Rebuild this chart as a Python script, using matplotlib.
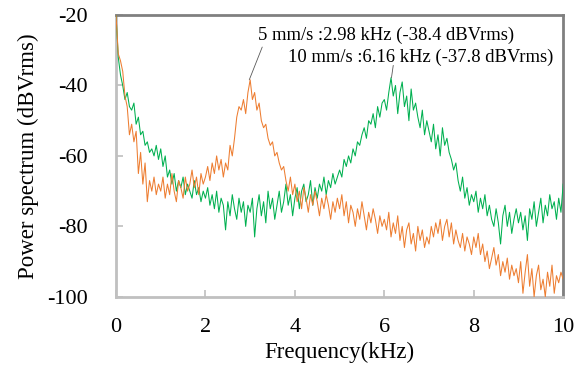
import matplotlib
matplotlib.use('Agg')
import matplotlib.pyplot as plt
import numpy as np

plt.rcParams['font.family'] = ['Liberation Serif', 'DejaVu Serif']
plt.rcParams['axes.unicode_minus'] = False

# frequency grid (kHz), 0.05 kHz step
freq = np.round(np.arange(0, 10.001, 0.05), 2)

# 5 mm/s spectrum (dBVrms)
spec_5 = [
    -20, -31, -33, -36, -43, -46, -54, -51, -56, -53, -65, -59, -68, -62, -73, -67, -70, -66, -71, -68,
    -70, -66, -72, -68, -71, -65, -70, -73, -67, -69, -72, -66, -70, -68, -64, -69, -66, -71, -65, -68,
    -66, -63, -67, -62, -65, -60, -64, -61, -66, -62, -64, -57, -60, -55, -49, -46, -47, -44, -48, -42,
    -38.4, -44, -42, -47, -45, -50, -52, -51, -55, -57, -56, -60, -59, -62, -64, -63, -67, -70, -66, -71,
    -68, -73, -70, -75, -69, -72, -76, -71, -74, -70, -73, -77, -72, -75, -71, -74, -78, -73, -76, -72,
    -75, -71, -77, -73, -79, -74, -76, -80, -75, -78, -73, -77, -81, -76, -79, -75, -78, -82, -77, -80,
    -78, -81, -76, -83, -79, -82, -77, -84, -80, -86, -81, -79, -85, -82, -87, -80, -84, -81, -86, -83,
    -85, -80, -83, -79, -82, -78, -84, -80, -78, -83, -79, -85, -81, -84, -86, -82, -87, -83, -85, -88,
    -83, -86, -82, -88, -85, -90, -87, -92, -89, -86, -91, -88, -94, -90, -93, -89, -95, -91, -94, -92,
    -96, -90, -99, -93, -88, -97, -92, -100, -94, -91, -98, -95, -100, -93, -97, -91, -99, -94, -96, -93,
    -95,
]

# 10 mm/s spectrum (dBVrms)
spec_10 = [
    -20, -32, -37, -40, -44, -42, -46, -47, -45, -51, -49, -54, -53, -57, -56, -59, -58, -60, -57, -61,
    -58, -63, -60, -66, -64, -68, -65, -70, -67, -69, -66, -71, -68, -70, -72, -67, -71, -69, -73, -70,
    -72, -69, -74, -71, -75, -70, -76, -72, -74, -81, -73, -77, -71, -75, -78, -72, -76, -73, -80, -74,
    -76, -72, -83, -75, -71, -77, -73, -79, -70, -75, -72, -78, -74, -70, -76, -73, -68, -74, -71, -77,
    -72, -69, -75, -70, -68, -73, -71, -67, -74, -69, -72, -68, -70, -66, -71, -67, -69, -65, -68, -66,
    -64, -66, -61, -63, -60, -62, -58, -60, -56, -57, -54, -52, -55, -50, -51, -48, -52, -46, -49, -45,
    -44, -47, -42, -37.8, -43, -40, -48, -42, -39, -46, -43, -50, -41, -47, -45, -49, -52, -47, -54, -50,
    -53, -56, -51, -58, -54, -60, -52, -57, -55, -59, -61, -64, -62, -67, -70, -66, -72, -69, -74, -71,
    -73, -70, -76, -72, -75, -71, -77, -74, -78, -80, -75, -79, -85, -77, -74, -80, -76, -82, -78, -75,
    -79, -76, -81, -77, -84, -75, -78, -73, -80, -76, -72, -79, -74, -77, -71, -75, -73, -78, -72, -76,
    -68,
]

peak_labels = ['5 mm/s :2.98 kHz (-38.4 dBVrms)', '10 mm/s :6.16 kHz (-37.8 dBVrms)']
peak_points = [(2.98, -38.4), (6.16, -37.8)]

fig = plt.figure(figsize=(5.83, 3.66), dpi=100)
ax = fig.add_axes([0.199, 0.189, 0.767, 0.770])

ax.plot(freq, spec_10, color='#00b050', lw=0.75, zorder=3)
ax.plot(freq, spec_5, color='#ed7d31', lw=0.75, zorder=4)

ax.set_xlim(0, 10)
ax.set_ylim(-100, -20)
ax.set_xticks([0, 2, 4, 6, 8, 10])
ax.set_yticks([-100, -80, -60, -40, -20])
ax.tick_params(direction='in', length=5, width=1.2, color='#bfbfbf', labelsize=16, pad=20)
ax.tick_params(axis='x', pad=15)

ax.spines['left'].set_color('#c0c0c0')
ax.spines['bottom'].set_color('#c0c0c0')
ax.spines['top'].set_color('#808080')
ax.spines['right'].set_color('#808080')
for sp in ax.spines.values():
    sp.set_linewidth(2)

ax.set_xlabel('Frequency(kHz)', fontsize=16.5, labelpad=4)
ax.set_ylabel('Power spectrum (dBVrms)', fontsize=16.5, labelpad=6)

# leader lines + labels
ax.annotate('', xy=peak_points[0], xytext=(3.27, -29.1),
            arrowprops=dict(arrowstyle='-', color='#595959', lw=0.6, shrinkA=0, shrinkB=0))
ax.annotate('', xy=peak_points[1], xytext=(6.2, -34.3),
            arrowprops=dict(arrowstyle='-', color='#595959', lw=0.6, shrinkA=0, shrinkB=0))
ax.text(6.04, -25.7, peak_labels[0], ha='center', va='center', fontsize=13.4)
ax.text(6.82, -31.9, peak_labels[1], ha='center', va='center', fontsize=13.4)

plt.savefig('out.png', dpi=100)
plt.close()
